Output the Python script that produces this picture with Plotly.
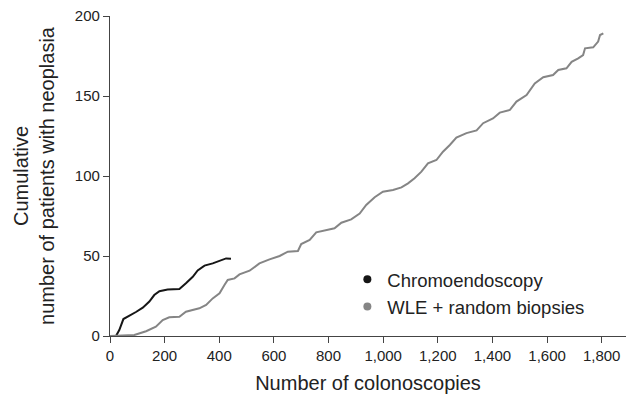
import plotly.graph_objects as go

# Chromoendoscopy (black)
chromo_x = [22, 34, 49, 71, 95, 120, 144, 162, 181, 211, 254, 278, 303, 321, 346, 376, 407, 425, 443]
chromo_y = [0, 3.75, 10.6, 12.5, 15, 17.7, 21.5, 25.6, 28, 29, 29.4, 33, 37, 41, 44, 45.4, 47.5, 48.5, 48.3]

# WLE + random biopsies (grey)
wle_x = [0, 89, 132, 168, 193, 217, 254, 278, 327, 352, 376, 401, 419, 431, 456, 474, 511, 547, 584,
         621, 651, 688, 700, 731, 755, 792, 822, 847, 883, 914, 938, 969, 999, 1036, 1067, 1091, 1115,
         1140, 1164, 1195, 1219, 1244, 1268, 1305, 1342, 1366, 1402, 1427, 1464, 1488, 1525, 1555,
         1586, 1622, 1641, 1671, 1690, 1714, 1732, 1739, 1769, 1787, 1794, 1806]
wle_y = [0, 0.6, 3, 5.8, 10, 11.7, 12, 15.2, 17.3, 19.4, 23.5, 26.7, 31.9, 35, 36, 38.5, 40.8, 45.4, 47.9,
         50, 52.7, 53.1, 57.5, 60, 64.8, 66.3, 67.3, 70.8, 72.9, 76.5, 81.9, 86.7, 90.2, 91.3, 92.9, 95.4, 98.6,
         102.7, 107.9, 110, 115.2, 119.4, 124, 126.8, 128.5, 133, 136, 139.6, 141.3, 146.5, 150.6, 157.9,
         161.7, 163.1, 166.3, 167.3, 171.4, 173.5, 175.6, 179.8, 180.4, 184, 188.1, 189.2]

x_ticks = [0, 200, 400, 600, 800, 1000, 1200, 1400, 1600, 1800]
y_ticks = [0, 50, 100, 150, 200]

series_names = ["Chromoendoscopy", "WLE + random biopsies"]
BLACK = "#161616"
GREY = "#858585"
FONT = "Liberation Sans, Arial, Helvetica, sans-serif"

fig = go.Figure()
fig.add_trace(go.Scatter(x=chromo_x, y=chromo_y, mode="lines",
                         line=dict(color=BLACK, width=2), showlegend=False, hoverinfo="skip"))
fig.add_trace(go.Scatter(x=wle_x, y=wle_y, mode="lines",
                         line=dict(color=GREY, width=2), showlegend=False, hoverinfo="skip"))
# legend entries (markers)
fig.add_trace(go.Scatter(x=[None], y=[None], mode="markers", name=series_names[0],
                         marker=dict(color=BLACK, size=8)))
fig.add_trace(go.Scatter(x=[None], y=[None], mode="markers", name=series_names[1],
                         marker=dict(color=GREY, size=8)))

axis_common = dict(
    showgrid=False, zeroline=False, showline=True, linecolor="#444444", linewidth=1.3,
    ticks="outside", ticklen=6, tickwidth=1.3, tickcolor="#444444",
    tickfont=dict(family=FONT, size=15, color="#222222"),
)

fig.update_layout(
    width=627, height=402,
    margin=dict(l=110, r=1, t=16, b=66),
    paper_bgcolor="white", plot_bgcolor="white",
    font=dict(family=FONT, color="#222222"),
    xaxis=dict(range=[0, 1889], tickvals=x_ticks, tickformat=",d",
               title=dict(text="Number of colonoscopies", font=dict(size=20), standoff=12),
               **axis_common),
    yaxis=dict(range=[0, 200], tickvals=y_ticks,
               title=dict(text="Cumulative<br>number of patients with neoplasia",
                          font=dict(size=20), standoff=14),
               **axis_common),
    legend=dict(x=0.46, y=0.235, xanchor="left", yanchor="top",
                font=dict(family=FONT, size=18.5, color="#222222"),
                bgcolor="rgba(0,0,0,0)", borderwidth=0),
)

fig.write_html("out.html")
